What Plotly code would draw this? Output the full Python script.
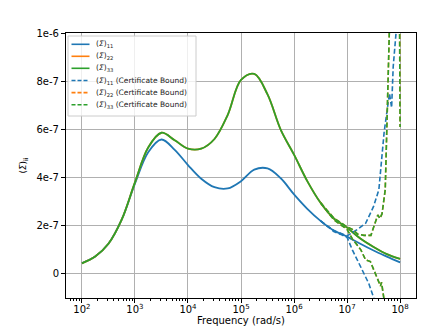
import numpy as np
import plotly.graph_objects as go

# log10 of frequency (rad/s) for the solid curves
log_w = [2.0, 2.25, 2.5, 2.75, 3.0, 3.25, 3.5, 3.75, 4.0, 4.25, 4.5, 4.75, 5.0,
         5.25, 5.5, 5.75, 6.0, 6.25, 6.5, 6.75, 7.0, 7.25, 7.5, 7.75, 8.0]

# values in units of 1e-7
sig11 = [0.45, 0.72, 1.25, 2.25, 3.75, 5.05, 5.58, 5.15, 4.52, 3.95, 3.6, 3.55, 3.85,
         4.33, 4.38, 3.97, 3.3, 2.7, 2.2, 1.8, 1.55, 1.25, 0.97, 0.72, 0.48]
sig22 = [0.44, 0.72, 1.25, 2.25, 3.8, 5.25, 5.86, 5.55, 5.2, 5.2, 5.6, 6.6, 8.05,
         8.3, 7.45, 5.98, 4.95, 3.85, 2.95, 2.3, 1.92, 1.47, 1.12, 0.82, 0.62]
sig33 = list(sig22)

# certificate bounds: they sit on the solid curves, then split at high frequency
tail11_up_w = [6.5, 6.75, 7.0, 7.1, 7.2, 7.35, 7.5, 7.6, 7.7, 7.8, 7.84, 7.87, 7.93, 8.0]
tail11_up = [2.2, 1.8, 1.58, 1.7, 1.85, 2.1, 2.8, 3.5, 5.9, 7.5, 6.9, 8.6, 10.0, 12.0]
tail11_lo_w = [6.5, 6.75, 6.9, 7.0, 7.1, 7.26, 7.41, 7.55]
tail11_lo = [2.2, 1.76, 1.62, 1.52, 1.0, 0.3, -0.4, -1.3]

tail33_up_w = [6.5, 6.75, 7.0, 7.1, 7.2, 7.32, 7.45, 7.55, 7.58, 7.62, 7.66, 7.72, 7.78, 7.82, 7.97, 8.0]
tail33_up = [2.95, 2.32, 1.95, 1.85, 1.65, 1.6, 1.6, 2.2, 2.45, 2.3, 2.5, 3.5, 8.0, 12.0, 20.0, 6.1]
tail33_lo_w = [6.5, 6.75, 7.0, 7.1, 7.26, 7.35, 7.44, 7.5, 7.6, 7.63, 7.65, 7.7]
tail33_lo = [2.95, 2.25, 1.85, 1.45, 1.0, 0.58, 0.51, 0.17, -0.32, -0.5, -0.35, -1.1]

y_ticks = [0, 2e-7, 4e-7, 6e-7, 8e-7, 1e-6]
y_text = ["0", "2e-7", "4e-7", "6e-7", "8e-7", "1e-6"]
x_ticks = [1e2, 1e3, 1e4, 1e5, 1e6, 1e7, 1e8]
x_text = ["10<sup>2</sup>", "10<sup>3</sup>", "10<sup>4</sup>", "10<sup>5</sup>",
          "10<sup>6</sup>", "10<sup>7</sup>", "10<sup>8</sup>"]

colors = ["#1f77b4", "#ff7f0e", "#2ca02c"]
names = ["11", "22", "33"]
DASH = "5px,2.5px"


def w(lw):
    return 10 ** np.array(lw)


def v(vals):
    return np.array(vals) * 1e-7


fig = go.Figure()
solids = [sig11, sig22, sig33]
for i in range(3):
    fig.add_trace(go.Scatter(
        x=w(log_w), y=v(solids[i]), mode="lines", line_shape="spline",
        line=dict(color=colors[i], width=1.8), showlegend=False))

tails = [(tail11_up_w, tail11_up, tail11_lo_w, tail11_lo),
         (tail33_up_w, tail33_up, tail33_lo_w, tail33_lo),
         (tail33_up_w, tail33_up, tail33_lo_w, tail33_lo)]
for i in range(3):
    uw, uv, lw_, lv = tails[i]
    for xs, ys in [(uw, uv), (lw_, lv)]:
        fig.add_trace(go.Scatter(
            x=w(xs), y=v(ys), mode="lines",
            line=dict(color=colors[i], width=1.6, dash=DASH), showlegend=False))

# page body has an 8px margin, so the figure is drawn 8px in from the window corner
OFF = 8
W, H = 443 - OFF, 332 - OFF
# plot area in window pixels
L, R, T, B = 66, 416, 33, 298


def px(xp):
    return (xp - L) / (R - L)


def py(yp):
    return (B - yp) / (B - T)


# legend drawn by hand so that it is as compact as matplotlib's
fig.add_shape(type="rect", xref="paper", yref="paper",
              x0=px(68), x1=px(196), y0=py(116), y1=py(36),
              line=dict(color="#cccccc", width=1), fillcolor="rgba(255,255,255,0.8)",
              layer="above")
labels = ["(<i>Σ</i>)<sub>%s</sub>" % n for n in names] + \
         ["(<i>Σ</i>)<sub>%s</sub> (Certificate Bound)" % n for n in names]
row_y = [44.3, 56.3, 68.3, 80.5, 92.6, 104.7]
for k in range(6):
    c = colors[k % 3]
    fig.add_shape(type="line", xref="paper", yref="paper",
                  x0=px(71.5), x1=px(89.5), y0=py(row_y[k]), y1=py(row_y[k]),
                  line=dict(color=c, width=1.6, dash=None if k < 3 else "4px,2px"),
                  layer="above")
    fig.add_annotation(xref="paper", yref="paper", x=px(94), y=py(row_y[k]),
                       xanchor="left", yanchor="middle", showarrow=False,
                       text=labels[k], font=dict(size=7.5, color="#222222"))

minor_vals = [m * 10 ** e for e in range(1, 9) for m in range(2, 10)]

axis_common = dict(showline=True, linecolor="black", linewidth=1, mirror=True,
                   ticks="outside", ticklen=4, tickcolor="black",
                   showgrid=True, gridcolor="#b0b0b0", gridwidth=0.8,
                   zeroline=False, automargin=False,
                   tickfont=dict(size=10, color="black"))

fig.update_layout(
    width=W, height=H,
    margin=dict(l=L - OFF, r=W - (R - OFF), t=T - OFF, b=H - (B - OFF)),
    plot_bgcolor="white", paper_bgcolor="white",
    font=dict(family="DejaVu Sans", color="black"),
    showlegend=False,
    xaxis=dict(type="log", range=[1.7, 8.3], tickvals=x_ticks, ticktext=x_text,
               ticklabelstandoff=-2,
               title=dict(text="Frequency (rad/s)", font=dict(size=10), standoff=2),
               minor=dict(tickvals=minor_vals, ticks="outside", ticklen=2,
                          tickcolor="black", showgrid=False),
               **axis_common),
    yaxis=dict(range=[-1e-7, 1e-6], tickvals=y_ticks, ticktext=y_text,
               title=dict(text="(<i>Σ</i>)<sub>ii</sub>", font=dict(size=9), standoff=8),
               **axis_common),
)

fig.write_html("out.html")
